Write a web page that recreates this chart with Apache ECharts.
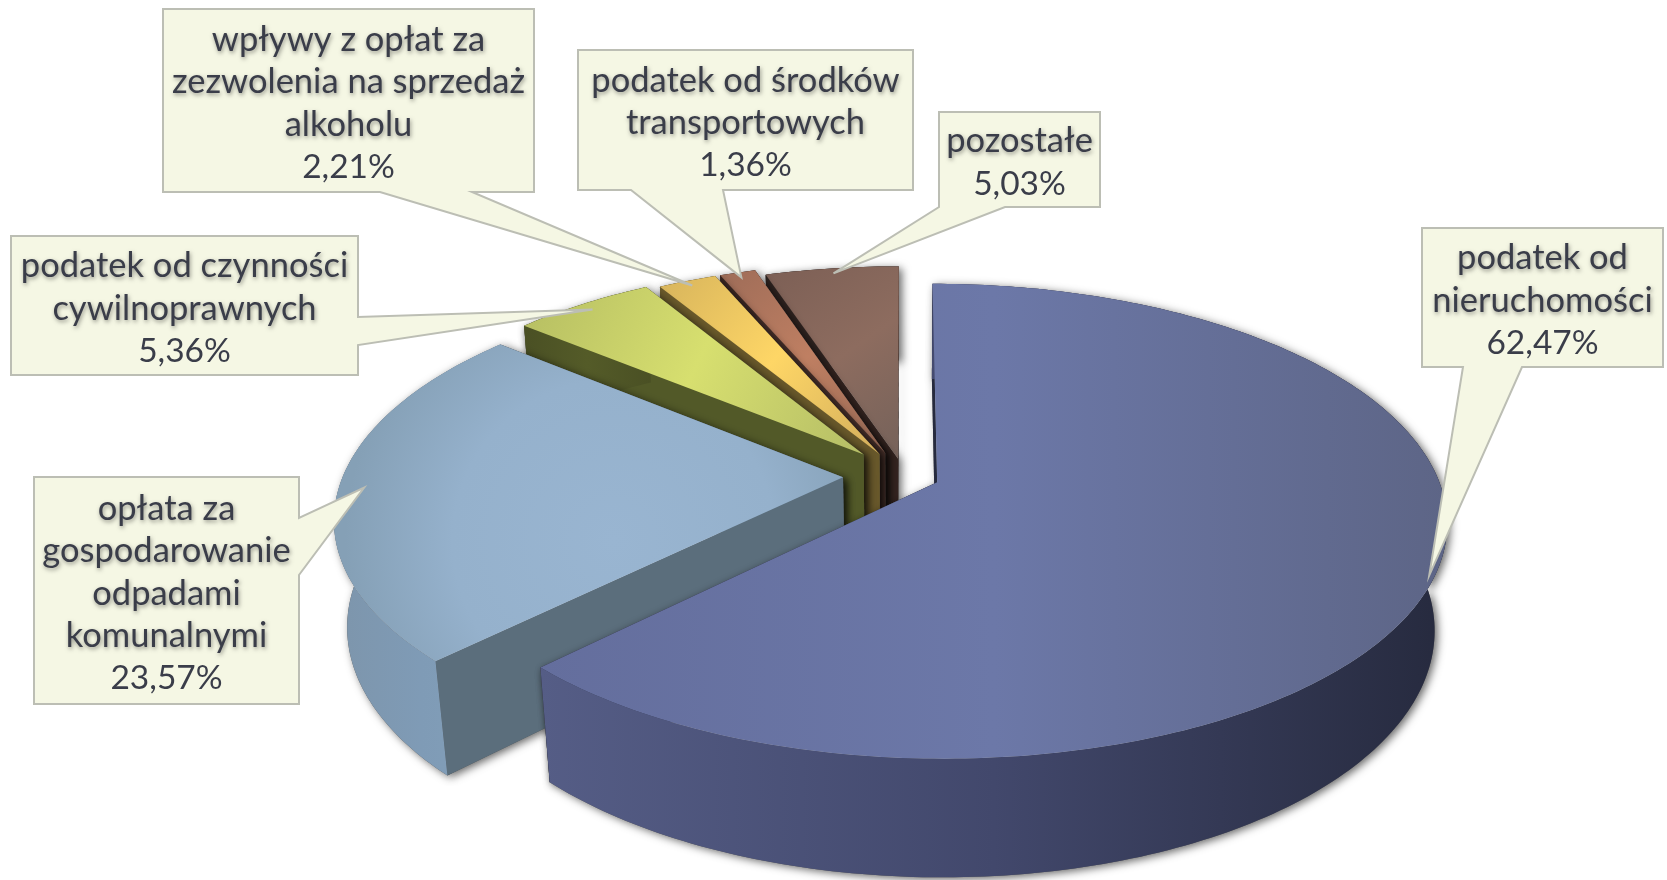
<!DOCTYPE html>
<html>
<head>
<meta charset="utf-8">
<style>
  html, body { margin: 0; height: 100%; background: #fff; }
  #chart { width: 1667px; height: 880px; }
</style>
<script src="https://cdn.jsdelivr.net/npm/echarts@6/dist/echarts.min.js"></script>
</head>
<body>
<div id="chart"></div>
<script>
// data, clockwise from 12 o'clock
const categories = [
  "podatek od\nnieruchomości",
  "opłata za\ngospodarowanie\nodpadami\nkomunalnymi",
  "podatek od czynności\ncywilnoprawnych",
  "wpływy z opłat za\nzezwolenia na sprzedaż\nalkoholu",
  "podatek od środków\ntransportowych",
  "pozostałe"
];
const shares = [62.47, 23.57, 5.36, 2.21, 1.36, 5.03];

// how far each slice is pulled out, as a part of the radius
const explode = [0.0714, 0.122, 0.126, 0.11, 0.109, 0.077];

// top / side / front colours per slice
const topColors = [
  ["#646e9d", "#6c78a8", "#5d6586"],
  ["#7f9ab2", "#98b4d0", "#84a0b8"],
  ["#b5bd66", "#d7df6f", "#b5bd62"],
  ["#d3ae5c", "#fed666", "#d7b45c"],
  ["#966854", "#bf7f62", "#9e6c58"],
  ["#75625a", "#8d6c5f", "#7c5f55"]
];
const rimColors = [
  ["#555d86", "#42486c", "#262a3e"],
  ["#7d95ab", "#7f9bb6", "#83a0ba"],
  ["#4a5024", "#545b28", "#4a5024"],
  ["#6a5a2b", "#6a5a2b", "#6a5a2b"],
  ["#3f2a25", "#3f2a25", "#3f2a25"],
  ["#2f2320", "#2f2320", "#2f2320"]
];
const wallColors = ["#262a3e", "#5b6e7c", "#525928", "#68582a", "#47302a", "#33231f"];

// callout boxes: x, y, w, h, edge the pointer leaves from, the two points on that edge, tip radius
const callouts = [
  { box: [1422, 228, 241, 139], edge: "bottom", base: [1463, 1522], tip: 0.99 },
  { box: [34, 477, 265, 227], edge: "right", base: [518, 575], tip: 0.95 },
  { box: [11, 236, 347, 139], edge: "right", base: [317, 345], tip: 0.96 },
  { box: [163, 9, 371, 183], edge: "bottom", base: [380, 472], tip: 0.97 },
  { box: [578, 50, 335, 140], edge: "bottom", base: [631, 723], tip: 0.97 },
  { box: [939, 112, 161, 95], edge: "bottom", base: [939, 1005], tip: 0.97 }
];

// camera
const cx = 904, cy = 476, R = 500, Ry = 229, H = 108, k = 0.1633, m = 0.023;

const total = shares.reduce((a, b) => a + b, 0);
const spans = [];
let run = 0;
shares.forEach((s) => {
  const a0 = (run / total) * Math.PI * 2;
  run += s;
  spans.push([a0, (run / total) * Math.PI * 2]);
});

function project(i, theta, rad, z) {
  const mid = (spans[i][0] + spans[i][1]) / 2;
  const U = explode[i] * Math.sin(mid) + rad * Math.sin(theta);
  const V = -explode[i] * Math.cos(mid) - rad * Math.cos(theta);
  const w = 1 - k * V + m * z;
  return [cx + (R * U) / w, cy + (Ry * V + H * z) / w];
}

function rim(i, z) {
  const [a0, a1] = spans[i];
  const n = Math.max(4, Math.ceil(((a1 - a0) * 180) / Math.PI));
  const pts = [];
  for (let j = 0; j <= n; j++) pts.push(project(i, a0 + ((a1 - a0) * j) / n, 1, z));
  return pts;
}

function stops(c) {
  return [
    { offset: 0, color: c[0] },
    { offset: 0.5, color: c[1] },
    { offset: 1, color: c[2] }
  ];
}

function topFill(i) {
  if (i === 1) {
    return {
      type: "radial", x: 0.55, y: 0.62, r: 0.85,
      colorStops: [
        { offset: 0, color: "#99b5d1" },
        { offset: 0.6, color: "#95b1cc" },
        { offset: 1, color: "#85a0b6" }
      ]
    };
  }
  const dir = i === 0 ? [0, 0, 1, 0] : [1, 1, 0, 0];
  return {
    type: "linear", x: dir[0], y: dir[1], x2: dir[2], y2: dir[3],
    colorStops: stops(topColors[i])
  };
}

function renderSlice(params, api) {
  const i = api.value(0);
  const top = rim(i, 0);
  const bottom = rim(i, 1);
  const apexT = project(i, 0, 0, 0);
  const apexB = project(i, 0, 0, 1);
  const last = top.length - 1;
  const endWall = [apexT, top[last], bottom[last], apexB];
  const startWall = [apexT, top[0], bottom[0], apexB];
  const side = top.concat(bottom.slice().reverse());
  const shadow = { fill: "#555", shadowBlur: 9, shadowColor: "rgba(0,0,0,0.6)", shadowOffsetX: 3, shadowOffsetY: 2 };
  const poly = (points, style) => ({ type: "polygon", shape: { points }, style });
  return {
    type: "group",
    children: [
      // shadow pass, then the faces on top without it
      poly(startWall, shadow),
      poly(endWall, shadow),
      poly(side, shadow),
      poly(endWall, { fill: wallColors[i] }),
      poly(startWall, { fill: wallColors[i] }),
      poly(side, { fill: { type: "linear", x: 0, y: 0, x2: 1, y2: 0, colorStops: stops(rimColors[i]) } }),
      poly([apexT].concat(top), { fill: topFill(i) })
    ]
  };
}

function renderCallout(params, api) {
  const i = api.value(0);
  const c = callouts[i];
  const [x, y, w, h] = c.box;
  const mid = (spans[i][0] + spans[i][1]) / 2;
  const tip = project(i, mid, c.tip, 0);
  const pts = c.edge === "bottom"
    ? [[x, y], [x + w, y], [x + w, y + h], [c.base[1], y + h], tip, [c.base[0], y + h], [x, y + h]]
    : [[x, y], [x + w, y], [x + w, c.base[0]], tip, [x + w, c.base[1]], [x + w, y + h], [x, y + h]];
  const lines = categories[i].split("\n");
  lines.push(shares[i].toFixed(2).replace(".", ",") + "%");
  const lh = 42.5;
  const startY = y + h / 2 - ((lines.length - 1) * lh) / 2 + 3;
  const children = [{
    type: "polygon",
    shape: { points: pts },
    style: { fill: "#f5f7e4", stroke: "#bcbeb4", lineWidth: 2 }
  }];
  lines.forEach((t, j) => {
    const isPct = j === lines.length - 1;
    children.push({
      type: "text",
      style: {
        x: x + w / 2,
        y: startY + j * lh,
        text: t,
        align: "center",
        verticalAlign: "middle",
        font: (isPct ? "33.5" : "34.5") + 'px Lato, "Noto Sans", sans-serif',
        fill: "#3a3d49",
        textShadowBlur: isPct ? 0 : 4,
        textShadowColor: "rgba(0,0,0,0.4)",
        textShadowOffsetX: 1,
        textShadowOffsetY: 2
      }
    });
  });
  return { type: "group", children };
}

const chart = echarts.init(document.getElementById("chart"));
chart.setOption({
  backgroundColor: "#fff",
  animation: false,
  tooltip: { show: false },
  series: [
    {
      type: "custom",
      coordinateSystem: "none",
      renderItem: renderSlice,
      silent: true,
      // back slices first so the front ones sit on top
      data: [5, 4, 3, 2, 1, 0].map((i) => [i, shares[i]])
    },
    {
      type: "custom",
      coordinateSystem: "none",
      renderItem: renderCallout,
      silent: true,
      z: 5,
      data: categories.map((c, i) => [i, shares[i]])
    }
  ]
});
window.addEventListener("resize", () => chart.resize());
</script>
</body>
</html>
